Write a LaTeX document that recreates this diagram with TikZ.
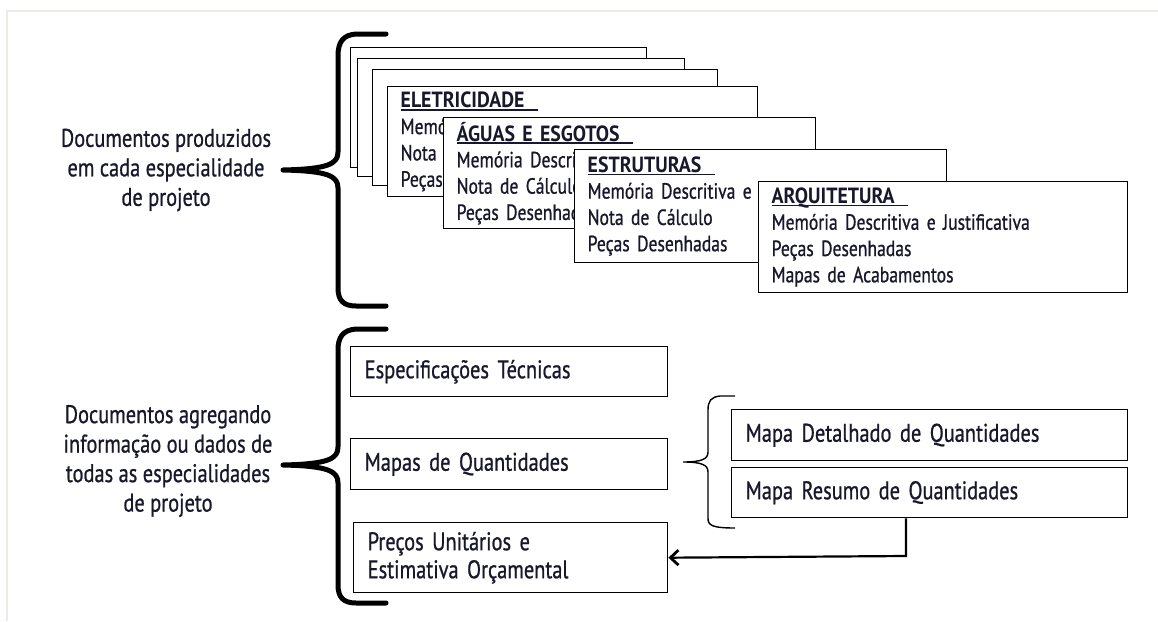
\documentclass[tikz,border=0pt]{standalone}
\usepackage{fontspec}
\setmainfont{PT Sans}[FakeStretch=0.8, FakeBold=0.8]
\newfontfamily\headfont{PT Sans}[FakeStretch=0.9]
\usetikzlibrary{arrows.meta,calc}
\definecolor{ink}{RGB}{24,24,44}
\definecolor{framegray}{RGB}{236,236,230}
% bold title with a rule running a little past the word
\newcommand\cardtitle[1]{\setbox0\hbox{\headfont\bfseries #1\hspace{0.6em}}\rlap{\rule[-3pt]{\wd0}{1.8pt}}\box0}
\tikzset{
  card/.style={draw=black, line width=1.4pt, fill=white, anchor=north west,
    inner xsep=13pt, inner ysep=0pt, align=left, text=ink,
    font=\fontsize{22}{26.3}\selectfont},
  blank/.style={draw=black, line width=1.4pt, fill=white, anchor=north west, inner sep=0pt},
  docbox/.style={draw=black, line width=1.4pt, fill=white, anchor=north west,
    inner xsep=14pt, inner ysep=0pt, align=left, text=ink,
    font=\fontsize{25.5}{28}\selectfont},
  sidetext/.style={align=center, text=ink, font=\fontsize{25.5}{29.5}\selectfont},
  bigbrace/.style={line width=5pt, line cap=round, line join=round},
  smallbrace/.style={line width=1.4pt},
  link/.style={line width=2.2pt, -{Straight Barb[length=8pt,width=15pt,line width=2.8pt]}}
}
\begin{document}
\begin{tikzpicture}[x=1pt,y=-1pt]
\useasboundingbox (0,0) rectangle (1158,621);
% faint panel frame
\draw[framegray, line width=1.2pt] (7,621) -- (7,11) -- (1158,11);

% side captions
\node[sidetext] (capA) at (166,170) {Documentos produzidos\\em cada especialidade\\de projeto};
\node[sidetext] (capB) at (168,461) {Documentos agregando\\informação ou dados de\\todas as especialidades\\de projeto};

% braces
\draw[bigbrace] (386,34) -- (356,34) .. controls (343,35) and (338,42) .. (338,56)
  -- (338,152) .. controls (338,164) and (328,169) .. (283,170)
  .. controls (328,171) and (338,176) .. (338,188)
  -- (338,288) .. controls (338,300) and (343,306) .. (356,306) -- (386,306);
\draw[bigbrace] (386,329) -- (356,329) .. controls (343,330) and (338,337) .. (338,350)
  -- (338,447) .. controls (338,459) and (328,464) .. (283,465)
  .. controls (328,466) and (338,471) .. (338,483)
  -- (338,585) .. controls (338,597) and (343,603) .. (356,603) -- (386,603);

% stacked specialty cards
\node[blank, minimum width=296pt, minimum height=120pt] (back1) at (350,47) {};
\node[blank, minimum width=327pt, minimum height=118pt] (back2) at (357,58) {};
\node[blank, minimum width=345pt, minimum height=116pt] (back3) at (372,69) {};
\node[card, minimum width=370pt, minimum height=110pt, text width=344pt] (elet) at (387,86)
  {\cardtitle{ELETRICIDADE}\\Memória Descritiva e Justificativa\\Nota de Cálculo\\Peças Desenhadas};
\node[card, minimum width=372pt, minimum height=111pt, text width=346pt] (aguas) at (443,117)
  {\cardtitle{ÁGUAS E ESGOTOS}\\Memória Descritiva e Justificativa\\Nota de Cálculo\\Peças Desenhadas};
\node[card, minimum width=372pt, minimum height=113pt, text width=346pt] (estr) at (574,149)
  {\cardtitle{ESTRUTURAS}\\Memória Descritiva e Justificativa\\Nota de Cálculo\\Peças Desenhadas};
\node[card, minimum width=369pt, minimum height=111pt, text width=343pt] (arq) at (758,181)
  {\cardtitle{ARQUITETURA}\\Memória Descritiva e Justificativa\\Peças Desenhadas\\Mapas de Acabamentos};

% aggregated documents
\node[docbox, minimum width=317pt, minimum height=50pt, text width=289pt] (spec) at (350,346) {Especificações Técnicas};
\node[docbox, minimum width=317pt, minimum height=51pt, text width=289pt] (mapas) at (350,438) {Mapas de Quantidades};
\node[docbox, minimum width=314pt, minimum height=70pt, text width=286pt] (precos) at (353,522) {Preços Unitários e\\Estimativa Orçamental};
\node[docbox, minimum width=396pt, minimum height=51pt, text width=368pt] (detal) at (731,409) {Mapa Detalhado de Quantidades};
\node[docbox, minimum width=396pt, minimum height=50pt, text width=368pt] (resumo) at (731,467) {Mapa Resumo de Quantidades};

% brace grouping the two quantity maps
\draw[smallbrace] (735,396) -- (720,396) .. controls (711,397) and (708,401) .. (708,410)
  -- (708,452) .. controls (708,459) and (702,462) .. (683,462)
  .. controls (702,462) and (708,465) .. (708,472)
  -- (708,518) .. controls (708,525) and (711,528) .. (735,528);

% summary map feeds the cost estimate
\coordinate (bend) at (906,556);
\draw[link] (resumo.south -| bend) -- (bend) -- (precos.east);
\end{tikzpicture}
\end{document}
